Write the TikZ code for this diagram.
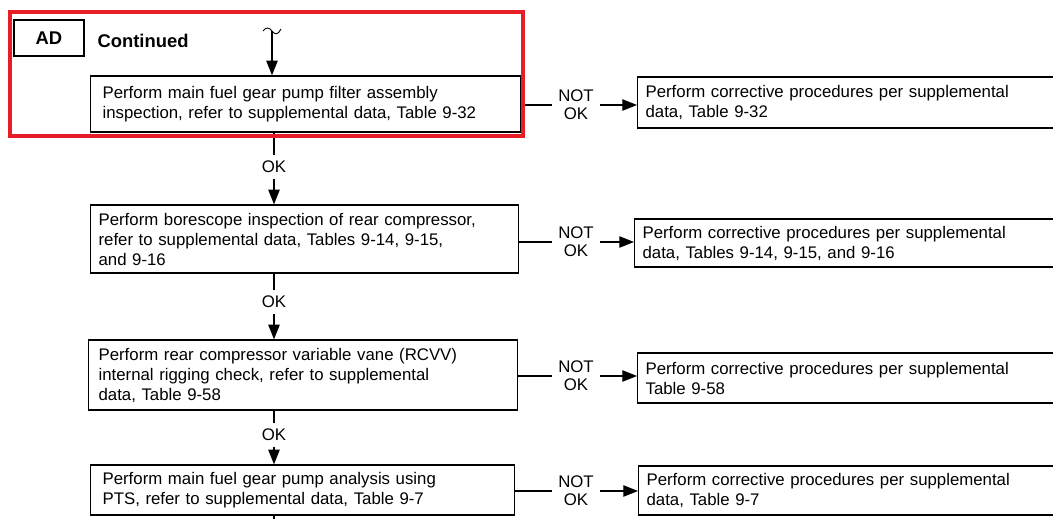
\documentclass[tikz,border=0pt]{standalone}
\usepackage{fontspec}
\setmainfont{Liberation Sans}
\usetikzlibrary{arrows.meta}
\definecolor{framered}{RGB}{232,30,38}

\begin{document}
\begin{tikzpicture}[x=0.75pt, y=-0.75pt, >={Triangle[length=11pt,width=8.5pt]},
			line width=0.9pt,
			every node/.style={font=\fontsize{12.6}{15}\selectfont},
			checkbox/.style={draw, align=left, inner xsep=9pt, inner ysep=0pt, anchor=west},
			fixbox/.style={draw, align=left, inner xsep=6pt, inner ysep=0pt, text width=320pt, anchor=west},
			verdict/.style={align=center, inner sep=4pt, font=\fontsize{12.6}{13.5}\selectfont}]
		\useasboundingbox (0,0) rectangle (1053,518);
		\clip (0,0) rectangle (1053,518);

		\node [draw, minimum width=52.5pt, minimum height=27pt, font=\bfseries\fontsize{13.8}{15}\selectfont] (ad) at (49,38) {AD};
		\node [anchor=west, inner sep=0pt, font=\bfseries\fontsize{13.8}{15}\selectfont] (continued) at (97,41) {Continued};

		\node [checkbox, text width=304.5pt, minimum height=42pt] (check1) at (90,104)
			{Perform main fuel gear pump filter assembly\\inspection, refer to supplemental data, Table 9-32};
		\node [checkbox, inner xsep=6pt, text width=309pt, minimum height=51pt] (check2) at (90,239)
			{Perform borescope inspection of rear compressor,\\refer to supplemental data, Tables 9-14, 9-15,\\and 9-16};
		\node [checkbox, inner xsep=7.5pt, text width=306.75pt, minimum height=52.5pt] (check3) at (88,375)
			{Perform rear compressor variable vane (RCVV)\\internal rigging check, refer to supplemental\\data, Table 9-58};
		\node [checkbox, text width=300pt, minimum height=37.5pt] (check4) at (90,490)
			{Perform main fuel gear pump analysis using\\PTS, refer to supplemental data, Table 9-7};

		\node [fixbox, minimum height=38.25pt] (fix1) at (637,102.5)
			{Perform corrective procedures per supplemental\\data, Table 9-32};
		\node [fixbox, minimum height=36pt] (fix2) at (634,243)
			{Perform corrective procedures per supplemental\\data, Tables 9-14, 9-15, and 9-16};
		\node [fixbox, minimum height=37.5pt] (fix3) at (637,378)
			{Perform corrective procedures per supplemental\\Table 9-58};
		\node [fixbox, minimum height=36.75pt] (fix4) at (638,490.5)
			{Perform corrective procedures per supplemental\\data, Table 9-7};

		\node [verdict] (notok1) at (576,105) {NOT\\OK};
		\node [verdict] (notok2) at (576,242) {NOT\\OK};
		\node [verdict] (notok3) at (576,376) {NOT\\OK};
		\node [verdict] (notok4) at (576,491) {NOT\\OK};

		\node [verdict] (ok1) at (274,167) {OK};
		\node [verdict] (ok2) at (274,302) {OK};
		\node [verdict] (ok3) at (274,435) {OK};

		\coordinate (cont) at (272,31);
		\coordinate (more) at (274,530);

		\draw [line width=0.7pt] (263,31) .. controls (266,27) and (269,27) .. (272,31)
			.. controls (275,35) and (278,35) .. (281,29);
		\draw [->] (cont) -- (cont |- check1.north);

		\draw (check1.east |- notok1) -- (notok1);
		\draw [->] (notok1.east) -- (notok1.east -| fix1.west);
		\draw (check2.east |- notok2) -- (notok2);
		\draw [->] (notok2.east) -- (notok2.east -| fix2.west);
		\draw (check3.east |- notok3) -- (notok3);
		\draw [->] (notok3.east) -- (notok3.east -| fix3.west);
		\draw (check4.east |- notok4) -- (notok4);
		\draw [->] (notok4.east) -- (notok4.east -| fix4.west);

		\draw (ok1 |- check1.south) -- (ok1);
		\draw [->] (ok1) -- (ok1 |- check2.north);
		\draw (ok2 |- check2.south) -- (ok2);
		\draw [->] (ok2) -- (ok2 |- check3.north);
		\draw (ok3 |- check3.south) -- (ok3);
		\draw [->] (ok3) -- (ok3 |- check4.north);
		\draw (more |- check4.south) -- (more);

		\draw [framered, line width=3pt] (10,12) rectangle (523,136);
	\end{tikzpicture}
\end{document}
